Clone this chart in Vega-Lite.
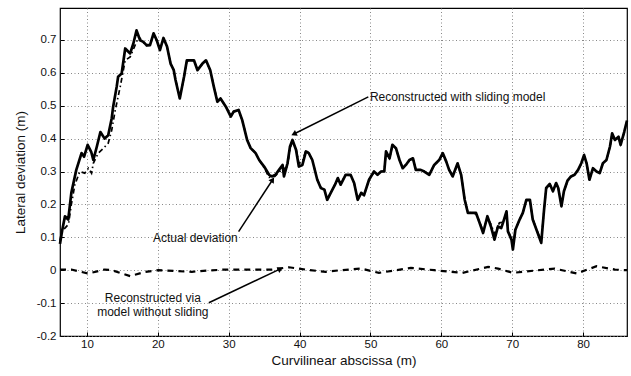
{
  "$schema": "https://vega.github.io/schema/vega-lite/v6.json",
  "width": 567,
  "height": 328,
  "autosize": "none",
  "padding": {"left": 60, "top": 8, "right": 4, "bottom": 40},
  "background": "white",
  "config": {
    "font": "Liberation Sans",
    "view": {"stroke": "black", "strokeWidth": 1.2},
    "axis": {
      "labelFont": "Liberation Sans",
      "titleFont": "Liberation Sans",
      "labelFontSize": 11.5,
      "titleFontSize": 13.5,
      "titleFontWeight": "normal",
      "labelColor": "#111111",
      "titleColor": "#111111",
      "domain": false,
      "tickColor": "black",
      "tickSize": -4,
      "gridColor": "#7a7a7a",
      "gridDash": [1, 2.5],
      "gridWidth": 0.9
    }
  },
  "datasets": {
    "actual": [
      {"s": 6.2, "dev": 0.08}, {"s": 6.5, "dev": 0.12}, {"s": 6.9, "dev": 0.164}, {"s": 7.36, "dev": 0.154},
      {"s": 7.8, "dev": 0.235}, {"s": 8.5, "dev": 0.305}, {"s": 9.24, "dev": 0.356}, {"s": 9.6, "dev": 0.345},
      {"s": 10.1, "dev": 0.381}, {"s": 10.6, "dev": 0.36}, {"s": 10.9, "dev": 0.335}, {"s": 11.4, "dev": 0.376},
      {"s": 11.9, "dev": 0.42}, {"s": 12.5, "dev": 0.4}, {"s": 13.0, "dev": 0.41}, {"s": 13.5, "dev": 0.462},
      {"s": 13.7, "dev": 0.497}, {"s": 14.2, "dev": 0.558}, {"s": 14.4, "dev": 0.588}, {"s": 14.9, "dev": 0.598},
      {"s": 15.4, "dev": 0.674}, {"s": 15.85, "dev": 0.664}, {"s": 16.1, "dev": 0.659}, {"s": 16.55, "dev": 0.689},
      {"s": 17.0, "dev": 0.729}, {"s": 17.5, "dev": 0.699}, {"s": 17.96, "dev": 0.694}, {"s": 18.4, "dev": 0.684},
      {"s": 18.9, "dev": 0.684}, {"s": 19.4, "dev": 0.72}, {"s": 19.85, "dev": 0.699}, {"s": 20.3, "dev": 0.669},
      {"s": 20.8, "dev": 0.706}, {"s": 21.3, "dev": 0.68}, {"s": 21.8, "dev": 0.628}, {"s": 22.25, "dev": 0.608},
      {"s": 22.5, "dev": 0.578}, {"s": 23.1, "dev": 0.522}, {"s": 23.7, "dev": 0.588}, {"s": 24.1, "dev": 0.638},
      {"s": 25.1, "dev": 0.638}, {"s": 25.6, "dev": 0.608}, {"s": 26.3, "dev": 0.628}, {"s": 26.8, "dev": 0.638},
      {"s": 27.4, "dev": 0.608}, {"s": 27.9, "dev": 0.558}, {"s": 28.4, "dev": 0.512}, {"s": 28.85, "dev": 0.522},
      {"s": 29.6, "dev": 0.497}, {"s": 30.3, "dev": 0.467}, {"s": 30.7, "dev": 0.482}, {"s": 31.4, "dev": 0.487},
      {"s": 31.9, "dev": 0.457}, {"s": 32.6, "dev": 0.396}, {"s": 33.1, "dev": 0.371}, {"s": 33.8, "dev": 0.356},
      {"s": 34.3, "dev": 0.335}, {"s": 35.0, "dev": 0.315}, {"s": 35.7, "dev": 0.29}, {"s": 36.1, "dev": 0.285},
      {"s": 36.6, "dev": 0.29}, {"s": 37.1, "dev": 0.305}, {"s": 37.6, "dev": 0.32}, {"s": 37.8, "dev": 0.285},
      {"s": 38.3, "dev": 0.325}, {"s": 38.65, "dev": 0.376}, {"s": 39.0, "dev": 0.396}, {"s": 39.5, "dev": 0.366},
      {"s": 39.9, "dev": 0.315}, {"s": 40.4, "dev": 0.32}, {"s": 40.9, "dev": 0.361}, {"s": 41.3, "dev": 0.356},
      {"s": 41.8, "dev": 0.335}, {"s": 42.5, "dev": 0.275}, {"s": 43.0, "dev": 0.25}, {"s": 43.5, "dev": 0.245},
      {"s": 43.9, "dev": 0.214}, {"s": 44.4, "dev": 0.235}, {"s": 45.0, "dev": 0.26}, {"s": 45.4, "dev": 0.28},
      {"s": 45.8, "dev": 0.26}, {"s": 46.5, "dev": 0.29}, {"s": 47.2, "dev": 0.29}, {"s": 47.7, "dev": 0.265},
      {"s": 48.2, "dev": 0.214}, {"s": 48.7, "dev": 0.235}, {"s": 49.1, "dev": 0.228}, {"s": 49.8, "dev": 0.275},
      {"s": 50.5, "dev": 0.3}, {"s": 51.0, "dev": 0.29}, {"s": 51.5, "dev": 0.3}, {"s": 51.95, "dev": 0.3},
      {"s": 52.2, "dev": 0.361}, {"s": 52.7, "dev": 0.34}, {"s": 53.1, "dev": 0.381}, {"s": 53.6, "dev": 0.371},
      {"s": 54.1, "dev": 0.335}, {"s": 54.55, "dev": 0.31}, {"s": 55.0, "dev": 0.32}, {"s": 55.5, "dev": 0.335},
      {"s": 56.0, "dev": 0.34}, {"s": 56.4, "dev": 0.305}, {"s": 57.1, "dev": 0.305}, {"s": 57.6, "dev": 0.3},
      {"s": 58.3, "dev": 0.29}, {"s": 59.0, "dev": 0.32}, {"s": 59.7, "dev": 0.335}, {"s": 60.2, "dev": 0.356},
      {"s": 60.7, "dev": 0.33}, {"s": 61.1, "dev": 0.305}, {"s": 61.6, "dev": 0.285}, {"s": 62.3, "dev": 0.325},
      {"s": 62.8, "dev": 0.29}, {"s": 63.3, "dev": 0.214}, {"s": 63.75, "dev": 0.174}, {"s": 64.9, "dev": 0.174},
      {"s": 65.4, "dev": 0.144}, {"s": 65.9, "dev": 0.113}, {"s": 66.5, "dev": 0.164}, {"s": 67.0, "dev": 0.133},
      {"s": 67.5, "dev": 0.093}, {"s": 68.0, "dev": 0.133}, {"s": 68.45, "dev": 0.128}, {"s": 68.7, "dev": 0.144},
      {"s": 69.2, "dev": 0.179}, {"s": 69.4, "dev": 0.118}, {"s": 69.9, "dev": 0.093}, {"s": 70.1, "dev": 0.063},
      {"s": 70.45, "dev": 0.123}, {"s": 71.05, "dev": 0.154}, {"s": 71.5, "dev": 0.174}, {"s": 72.0, "dev": 0.214},
      {"s": 72.5, "dev": 0.214}, {"s": 72.9, "dev": 0.154}, {"s": 73.6, "dev": 0.113}, {"s": 74.1, "dev": 0.083},
      {"s": 74.5, "dev": 0.184}, {"s": 74.8, "dev": 0.25}, {"s": 75.3, "dev": 0.262}, {"s": 75.75, "dev": 0.24},
      {"s": 76.2, "dev": 0.265}, {"s": 76.5, "dev": 0.25}, {"s": 76.95, "dev": 0.194}, {"s": 77.3, "dev": 0.24},
      {"s": 77.8, "dev": 0.272}, {"s": 78.3, "dev": 0.285}, {"s": 78.8, "dev": 0.29}, {"s": 79.3, "dev": 0.305},
      {"s": 79.75, "dev": 0.325}, {"s": 80.15, "dev": 0.35}, {"s": 80.5, "dev": 0.325}, {"s": 80.9, "dev": 0.275},
      {"s": 81.4, "dev": 0.31}, {"s": 81.9, "dev": 0.3}, {"s": 82.35, "dev": 0.295}, {"s": 82.8, "dev": 0.325},
      {"s": 83.3, "dev": 0.335}, {"s": 83.8, "dev": 0.376}, {"s": 84.1, "dev": 0.416}, {"s": 84.5, "dev": 0.396},
      {"s": 85.0, "dev": 0.406}, {"s": 85.3, "dev": 0.381}, {"s": 85.8, "dev": 0.42}, {"s": 86.2, "dev": 0.455}
    ],
    "sliding": [
      {"s": 6.2, "dev": 0.09}, {"s": 6.4, "dev": 0.113}, {"s": 6.9, "dev": 0.128}, {"s": 7.4, "dev": 0.14},
      {"s": 7.8, "dev": 0.2}, {"s": 8.3, "dev": 0.26}, {"s": 9.0, "dev": 0.3}, {"s": 9.7, "dev": 0.295},
      {"s": 10.2, "dev": 0.31}, {"s": 10.65, "dev": 0.295}, {"s": 10.9, "dev": 0.325}, {"s": 11.6, "dev": 0.356},
      {"s": 12.3, "dev": 0.37}, {"s": 13.0, "dev": 0.386}, {"s": 13.5, "dev": 0.426}, {"s": 14.0, "dev": 0.487},
      {"s": 14.7, "dev": 0.558}, {"s": 15.4, "dev": 0.638}, {"s": 16.1, "dev": 0.648}, {"s": 16.8, "dev": 0.684},
      {"s": 17.3, "dev": 0.71}, {"s": 17.96, "dev": 0.692}, {"s": 18.4, "dev": 0.682},
      {"s": 18.9, "dev": 0.684}, {"s": 19.4, "dev": 0.716}, {"s": 19.85, "dev": 0.699}, {"s": 20.3, "dev": 0.671},
      {"s": 20.8, "dev": 0.703}, {"s": 21.3, "dev": 0.68}, {"s": 21.8, "dev": 0.63}, {"s": 22.25, "dev": 0.608},
      {"s": 22.5, "dev": 0.58}, {"s": 23.1, "dev": 0.525}, {"s": 23.7, "dev": 0.586}, {"s": 24.1, "dev": 0.636},
      {"s": 25.1, "dev": 0.638}, {"s": 25.6, "dev": 0.61}, {"s": 26.3, "dev": 0.628}, {"s": 26.8, "dev": 0.636},
      {"s": 27.4, "dev": 0.608}, {"s": 27.9, "dev": 0.56}, {"s": 28.4, "dev": 0.514}, {"s": 28.85, "dev": 0.522},
      {"s": 29.6, "dev": 0.497}, {"s": 30.3, "dev": 0.469}, {"s": 30.7, "dev": 0.482}, {"s": 31.4, "dev": 0.485},
      {"s": 31.9, "dev": 0.457}, {"s": 32.6, "dev": 0.398}, {"s": 33.1, "dev": 0.371}, {"s": 33.8, "dev": 0.356},
      {"s": 34.3, "dev": 0.335}, {"s": 35.0, "dev": 0.312}, {"s": 35.7, "dev": 0.282}, {"s": 36.5, "dev": 0.285},
      {"s": 37.2, "dev": 0.3}, {"s": 38.3, "dev": 0.315}, {"s": 38.65, "dev": 0.37}, {"s": 39.0, "dev": 0.39},
      {"s": 39.5, "dev": 0.37}, {"s": 39.9, "dev": 0.325}, {"s": 40.4, "dev": 0.33}, {"s": 40.9, "dev": 0.365},
      {"s": 41.3, "dev": 0.356}, {"s": 41.8, "dev": 0.335}, {"s": 42.5, "dev": 0.275}, {"s": 43.0, "dev": 0.252},
      {"s": 43.5, "dev": 0.245}, {"s": 43.9, "dev": 0.216}, {"s": 44.4, "dev": 0.235}, {"s": 45.0, "dev": 0.26},
      {"s": 45.4, "dev": 0.278}, {"s": 45.8, "dev": 0.262}, {"s": 46.5, "dev": 0.29}, {"s": 47.2, "dev": 0.288},
      {"s": 47.7, "dev": 0.265}, {"s": 48.2, "dev": 0.216}, {"s": 48.7, "dev": 0.235}, {"s": 49.1, "dev": 0.228},
      {"s": 49.8, "dev": 0.275}, {"s": 50.5, "dev": 0.298}, {"s": 51.0, "dev": 0.29}, {"s": 51.5, "dev": 0.3},
      {"s": 51.95, "dev": 0.302}, {"s": 52.2, "dev": 0.358}, {"s": 52.7, "dev": 0.34}, {"s": 53.1, "dev": 0.379},
      {"s": 53.6, "dev": 0.371}, {"s": 54.1, "dev": 0.335}, {"s": 54.55, "dev": 0.312}, {"s": 55.0, "dev": 0.32},
      {"s": 55.5, "dev": 0.333}, {"s": 56.0, "dev": 0.34}, {"s": 56.4, "dev": 0.307}, {"s": 57.1, "dev": 0.305},
      {"s": 57.6, "dev": 0.3}, {"s": 58.3, "dev": 0.292}, {"s": 59.0, "dev": 0.32}, {"s": 59.7, "dev": 0.333},
      {"s": 60.2, "dev": 0.354}, {"s": 60.7, "dev": 0.33}, {"s": 61.1, "dev": 0.307}, {"s": 61.6, "dev": 0.287},
      {"s": 62.3, "dev": 0.323}, {"s": 62.8, "dev": 0.29}, {"s": 63.3, "dev": 0.216}, {"s": 63.75, "dev": 0.176},
      {"s": 64.9, "dev": 0.172}, {"s": 65.4, "dev": 0.146}, {"s": 65.9, "dev": 0.12}, {"s": 66.5, "dev": 0.16},
      {"s": 67.0, "dev": 0.14}, {"s": 67.5, "dev": 0.11}, {"s": 68.2, "dev": 0.144}, {"s": 68.7, "dev": 0.146},
      {"s": 69.2, "dev": 0.176}, {"s": 69.4, "dev": 0.12}, {"s": 69.9, "dev": 0.095}, {"s": 70.1, "dev": 0.068},
      {"s": 70.45, "dev": 0.123}, {"s": 71.05, "dev": 0.154}, {"s": 71.5, "dev": 0.174}, {"s": 72.0, "dev": 0.212},
      {"s": 72.5, "dev": 0.212}, {"s": 72.9, "dev": 0.156}, {"s": 73.6, "dev": 0.115}, {"s": 74.1, "dev": 0.088},
      {"s": 74.5, "dev": 0.184}, {"s": 74.8, "dev": 0.248}, {"s": 75.3, "dev": 0.262}, {"s": 75.75, "dev": 0.242},
      {"s": 76.2, "dev": 0.265}, {"s": 76.5, "dev": 0.25}, {"s": 76.95, "dev": 0.198}, {"s": 77.3, "dev": 0.24},
      {"s": 77.8, "dev": 0.27}, {"s": 78.3, "dev": 0.285}, {"s": 78.8, "dev": 0.29}, {"s": 79.3, "dev": 0.305},
      {"s": 79.75, "dev": 0.323}, {"s": 80.15, "dev": 0.348}, {"s": 80.5, "dev": 0.325}, {"s": 80.9, "dev": 0.277},
      {"s": 81.4, "dev": 0.31}, {"s": 81.9, "dev": 0.3}, {"s": 82.35, "dev": 0.297}, {"s": 82.8, "dev": 0.325},
      {"s": 83.3, "dev": 0.335}, {"s": 83.8, "dev": 0.374}, {"s": 84.1, "dev": 0.414}, {"s": 84.5, "dev": 0.396},
      {"s": 85.0, "dev": 0.404}, {"s": 85.3, "dev": 0.383}, {"s": 85.8, "dev": 0.418}, {"s": 86.2, "dev": 0.452}
    ],
    "noSliding": [
      {"s": 6.2, "dev": 0.002}, {"s": 7.8, "dev": 0.002}, {"s": 10.2, "dev": -0.01}, {"s": 12.5, "dev": 0.002},
      {"s": 13.5, "dev": 0.0}, {"s": 16.1, "dev": -0.018}, {"s": 18.2, "dev": -0.005}, {"s": 20.1, "dev": 0.0},
      {"s": 24.8, "dev": -0.005}, {"s": 25.7, "dev": -0.003}, {"s": 29.5, "dev": 0.002}, {"s": 36.1, "dev": 0.002},
      {"s": 38.5, "dev": 0.009}, {"s": 40.8, "dev": 0.002}, {"s": 43.7, "dev": -0.005}, {"s": 45.8, "dev": 0.0},
      {"s": 48.65, "dev": 0.005}, {"s": 51.2, "dev": -0.008}, {"s": 55.7, "dev": 0.007}, {"s": 59.0, "dev": 0.0},
      {"s": 63.0, "dev": -0.008}, {"s": 66.6, "dev": 0.01}, {"s": 68.0, "dev": 0.005}, {"s": 70.1, "dev": -0.008},
      {"s": 76.0, "dev": 0.005}, {"s": 79.1, "dev": -0.01}, {"s": 81.9, "dev": 0.012}, {"s": 84.5, "dev": 0.002},
      {"s": 86.2, "dev": 0.0}
    ],
    "notes": [
      {"id": "sliding", "label": ["Reconstructed with sliding model"], "s": 62.3, "dev": 0.527, "s0": 49.7, "dev0": 0.527, "s1": 39.2, "dev1": 0.414},
      {"id": "actual", "label": ["Actual deviation"], "s": 25.3, "dev": 0.099, "s0": 31.4, "dev0": 0.117, "s1": 36.2, "dev1": 0.275},
      {"id": "noSliding", "label": ["Reconstructed via", "model without sliding"], "s": 19.3, "dev": -0.084, "s0": 27.2, "dev0": -0.099, "s1": 37.3, "dev1": 0.004}
    ]
  },
  "encoding": {
    "x": {
      "field": "s", "type": "quantitative",
      "scale": {"domain": [6.2, 86.2], "nice": false, "zero": false},
      "axis": {"values": [10, 20, 30, 40, 50, 60, 70, 80], "title": "Curvilinear abscissa (m)", "labelPadding": 6, "titlePadding": 4, "grid": true}
    },
    "y": {
      "field": "dev", "type": "quantitative",
      "scale": {"domain": [-0.2, 0.797], "nice": false, "zero": false},
      "axis": {"values": [-0.2, -0.1, 0, 0.1, 0.2, 0.3, 0.4, 0.5, 0.6, 0.7], "title": "Lateral deviation (m)",
               "labelExpr": "replace(format(datum.value, '.1~f'), '\u2212', '-')", "labelPadding": 8, "titlePadding": 9, "grid": true}
    }
  },
  "layer": [
    {
      "data": {"name": "noSliding"},
      "mark": {"type": "line", "color": "black", "strokeWidth": 2.2, "strokeDash": [6, 5]}
    },
    {
      "data": {"name": "sliding"},
      "mark": {"type": "line", "color": "black", "strokeWidth": 1.7, "strokeDash": [5, 3, 1.5, 3]}
    },
    {
      "data": {"name": "actual"},
      "mark": {"type": "line", "color": "black", "strokeWidth": 2.7, "strokeJoin": "round"}
    },
    {
      "data": {"name": "notes"},
      "mark": {"type": "rule", "color": "black", "strokeWidth": 1.5},
      "encoding": {
        "x": {"field": "s0", "type": "quantitative"},
        "y": {"field": "dev0", "type": "quantitative"},
        "x2": {"field": "s1"},
        "y2": {"field": "dev1"}
      }
    },
    {
      "data": {"name": "notes"},
      "transform": [{"filter": "datum.id == 'sliding'"}],
      "mark": {"type": "point", "shape": "triangle-up", "filled": true, "color": "black", "size": 40, "angle": 244, "opacity": 1},
      "encoding": {"x": {"field": "s1", "type": "quantitative"}, "y": {"field": "dev1", "type": "quantitative"}}
    },
    {
      "data": {"name": "notes"},
      "transform": [{"filter": "datum.id == 'actual'"}],
      "mark": {"type": "point", "shape": "triangle-up", "filled": true, "color": "black", "size": 40, "angle": 33, "opacity": 1},
      "encoding": {"x": {"field": "s1", "type": "quantitative"}, "y": {"field": "dev1", "type": "quantitative"}}
    },
    {
      "data": {"name": "notes"},
      "transform": [{"filter": "datum.id == 'noSliding'"}],
      "mark": {"type": "point", "shape": "triangle-up", "filled": true, "color": "black", "size": 40, "angle": 65, "opacity": 1},
      "encoding": {"x": {"field": "s1", "type": "quantitative"}, "y": {"field": "dev1", "type": "quantitative"}}
    },
    {
      "data": {"name": "notes"},
      "mark": {"type": "text", "align": "center", "baseline": "middle", "font": "Liberation Sans", "fontSize": 12, "color": "#111111", "lineHeight": 14.5},
      "encoding": {"text": {"field": "label"}}
    }
  ]
}
